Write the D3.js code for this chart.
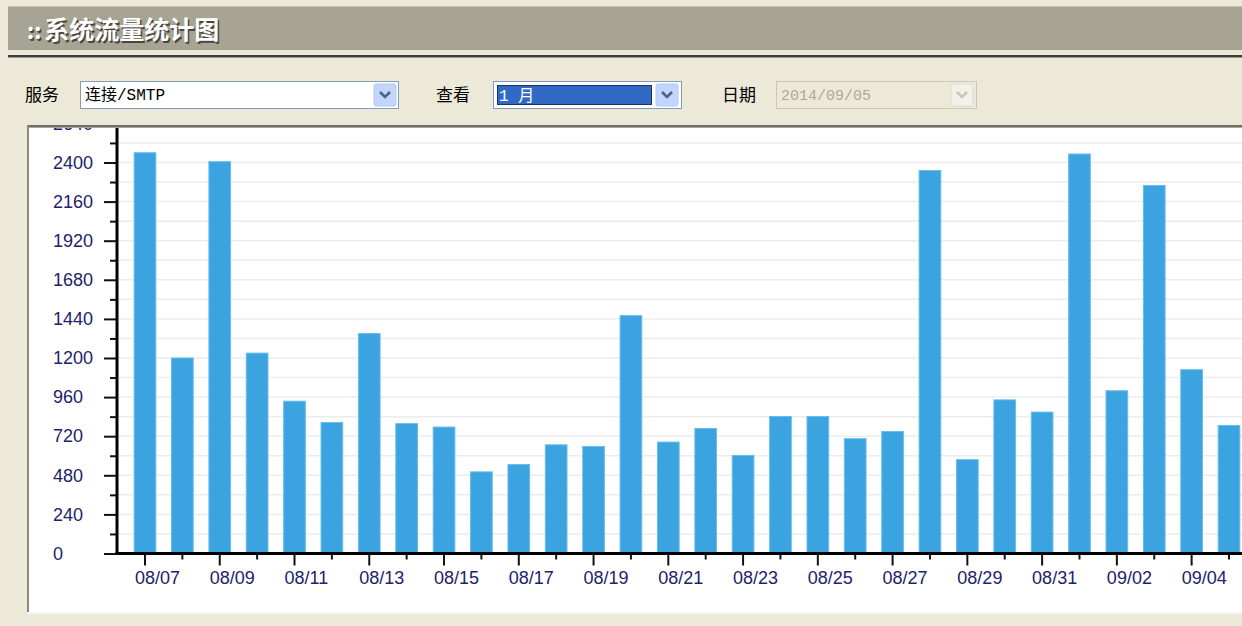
<!DOCTYPE html>
<html>
<head>
<meta charset="utf-8">
<script src="https://cdn.jsdelivr.net/npm/d3@7"></script>
<style>
  body { margin: 0; background: #ece9d8; overflow: hidden; }
  svg { display: block; }
</style>
</head>
<body>
<svg id="chart" width="1242" height="626"></svg>
<script>
// Daily SMTP connection counts, one bar per day
const dates = ["08/07","08/08","08/09","08/10","08/11","08/12","08/13","08/14","08/15","08/16",
               "08/17","08/18","08/19","08/20","08/21","08/22","08/23","08/24","08/25","08/26",
               "08/27","08/28","08/29","08/30","08/31","09/01","09/02","09/03","09/04","09/05"];
const traffic = [2460,1200,2405,1230,935,804,1350,797,776,501,
                 546,667,657,1460,684,767,602,841,841,705,
                 749,2351,576,943,868,2452,999,2259,1128,786];
const yMajorTicks = [0,240,480,720,960,1200,1440,1680,1920,2160,2400,2640];
const yMinorTicks = [120,360,600,840,1080,1320,1560,1800,2040,2280,2520];

const pageTitle = "::系统流量统计图";
const serviceLabel = "服务", serviceValue = "连接/SMTP";
const viewLabel = "查看", viewValue = "1 月";
const dateLabel = "日期", dateValue = "2014/09/05";

const W = 1242, H = 626;
const svg = d3.select("#chart");

// ---------- page header ----------
svg.append("rect").attr("x", 0).attr("y", 0).attr("width", W).attr("height", H).attr("fill", "#ece9d8");
svg.append("rect").attr("x", 8).attr("y", 6).attr("width", W - 8).attr("height", 44).attr("fill", "#a8a494");
svg.append("rect").attr("x", 8).attr("y", 6).attr("width", W - 8).attr("height", 1).attr("fill", "#c4c1b3");
const titleFont = "'Noto Sans CJK SC', sans-serif";
function titleText(dx, dy, fill) {
  const t = svg.append("text").attr("x", 27 + dx).attr("y", 39 + dy)
    .attr("font-family", titleFont).attr("font-size", 25).attr("font-weight", 700).attr("fill", fill);
  t.append("tspan").text(pageTitle.slice(0, 2)).attr("font-size", 22);
  t.append("tspan").attr("dx", 3).text(pageTitle.slice(2));
}
titleText(1.5, 1.5, "#47453d");
titleText(0, 0, "#ffffff");
svg.append("rect").attr("x", 8).attr("y", 55).attr("width", W - 8).attr("height", 2).attr("fill", "#3c3c3c");
svg.append("rect").attr("x", 8).attr("y", 57).attr("width", W - 8).attr("height", 1).attr("fill", "#9a9a90");

// ---------- form controls ----------
const labelFont = "'Noto Sans CJK SC', sans-serif";
const monoFont = "'Liberation Mono', 'Noto Sans CJK SC', monospace";

function comboButton(x, y, disabled) {
  const g = svg.append("g").attr("transform", `translate(${x},${y})`);
  g.append("rect").attr("width", 22).attr("height", 22).attr("rx", 2)
    .attr("fill", disabled ? "#f2f1ea" : "#c3d5fd").attr("stroke", disabled ? "#dedcd2" : "#b5c9f0");
  g.append("path").attr("d", "M6,8 L11,13 L16,8").attr("fill", "none")
    .attr("stroke", disabled ? "#c9c7ba" : "#4d6185").attr("stroke-width", 2.6);
}

// 服务
svg.append("text").attr("x", 25).attr("y", 101).text(serviceLabel)
  .attr("font-family", labelFont).attr("font-size", 17).attr("fill", "#000");
svg.append("rect").attr("x", 80.5).attr("y", 81.5).attr("width", 318).attr("height", 27)
  .attr("fill", "#fff").attr("stroke", "#7f9db9");
svg.append("text").attr("x", 85).attr("y", 100).text(serviceValue)
  .attr("font-family", monoFont).attr("font-size", 16).attr("fill", "#000");
comboButton(374, 84, false);

// 查看
svg.append("text").attr("x", 436).attr("y", 101).text(viewLabel)
  .attr("font-family", labelFont).attr("font-size", 17).attr("fill", "#000");
svg.append("rect").attr("x", 493.5).attr("y", 81.5).attr("width", 188).attr("height", 27)
  .attr("fill", "#fff").attr("stroke", "#7f9db9");
svg.append("rect").attr("x", 497).attr("y", 85).attr("width", 155).attr("height", 20).attr("fill", "#316ac5");
svg.append("rect").attr("x", 497.5).attr("y", 85.5).attr("width", 154).attr("height", 19)
  .attr("fill", "none").attr("stroke", "#000").attr("stroke-dasharray", "1,1");
svg.append("text").attr("x", 499).attr("y", 101).text(viewValue)
  .attr("font-family", monoFont).attr("font-size", 16).attr("fill", "#fff");
comboButton(656, 84, false);

// 日期
svg.append("text").attr("x", 722).attr("y", 101).text(dateLabel)
  .attr("font-family", labelFont).attr("font-size", 17).attr("fill", "#000");
svg.append("rect").attr("x", 776.5).attr("y", 81.5).attr("width", 200).attr("height", 27)
  .attr("fill", "#ece9d8").attr("stroke", "#cbc8b9");
svg.append("text").attr("x", 781).attr("y", 100).text(dateValue)
  .attr("font-family", monoFont).attr("font-size", 15).attr("fill", "#aca899");
comboButton(951, 84, true);

// ---------- chart panel ----------
const panel = { x: 27, y: 125, w: W - 27, h: 487 };
svg.append("rect").attr("x", panel.x).attr("y", panel.y).attr("width", panel.w).attr("height", panel.h)
  .attr("fill", "#ffffff");
svg.append("rect").attr("x", panel.x).attr("y", panel.y + panel.h).attr("width", panel.w).attr("height", 2)
  .attr("fill", "#f7f6f0");

svg.append("defs").append("clipPath").attr("id", "plotClip")
  .append("rect").attr("x", panel.x + 2).attr("y", panel.y + 3).attr("width", panel.w).attr("height", panel.h - 3);

const plot = svg.append("g").attr("clip-path", "url(#plotClip)");

const axisX0 = 117, baseY = 553.5;
const y = d3.scaleLinear().domain([0, 2640]).range([baseY, baseY - 2640 * 0.16292]);
const x = d3.scaleBand().domain(dates).range([126.3, 1247.7]).paddingInner(0.42).paddingOuter(0.21);

// horizontal grid
plot.append("g").selectAll("line").data(yMajorTicks.concat(yMinorTicks).filter(d => d > 0))
  .join("line")
  .attr("x1", axisX0).attr("x2", W)
  .attr("y1", d => y(d)).attr("y2", d => y(d))
  .attr("stroke", "#ececec").attr("stroke-width", 1.5);

// bars
plot.append("g").selectAll("rect").data(traffic)
  .join("rect")
  .attr("x", (d, i) => x(dates[i]))
  .attr("width", x.bandwidth())
  .attr("y", d => y(d))
  .attr("height", d => baseY - y(d))
  .attr("fill", "#3ba3e0")
  .attr("stroke", "#66bdec").attr("stroke-width", 1);

const axisFont = "'Liberation Sans', Arial, sans-serif";
const axisColor = "#22226a";

// y axis: minor then major ticks
const yMinor = plot.append("g").attr("transform", `translate(${axisX0},0)`)
  .call(d3.axisLeft(y).tickValues(yMinorTicks).tickSize(7).tickFormat(""));
const yMajor = plot.append("g").attr("transform", `translate(${axisX0},0)`)
  .call(d3.axisLeft(y).tickValues(yMajorTicks).tickSize(13).tickPadding(11).tickFormat(d3.format("d")));

// x axis: every day ticked, every other day labelled
const xMinor = plot.append("g").attr("transform", `translate(0,${baseY})`)
  .call(d3.axisBottom(x).tickValues(dates.filter((d, i) => i % 2 === 1)).tickSize(6).tickFormat(""));
const xMajor = plot.append("g").attr("transform", `translate(0,${baseY})`)
  .call(d3.axisBottom(x).tickValues(dates.filter((d, i) => i % 2 === 0)).tickSize(12).tickPadding(6));

[yMinor, yMajor, xMinor, xMajor].forEach(g => {
  g.select(".domain").remove();
  g.selectAll(".tick line").attr("stroke", "#111").attr("stroke-width", 2);
  g.selectAll(".tick text").attr("font-family", axisFont).attr("font-size", 18).attr("fill", axisColor);
});
// value labels share a left edge; date labels start just left of their tick
yMajor.selectAll(".tick text").attr("text-anchor", "start").attr("x", 53 - axisX0);
xMajor.selectAll(".tick text").attr("text-anchor", "start").attr("dx", -10);

// axis lines
plot.append("line").attr("x1", axisX0).attr("x2", axisX0).attr("y1", panel.y).attr("y2", baseY + 1.5)
  .attr("stroke", "#000").attr("stroke-width", 3);
plot.append("line").attr("x1", axisX0 - 1.5).attr("x2", W).attr("y1", baseY).attr("y2", baseY)
  .attr("stroke", "#000").attr("stroke-width", 3);

// sunken panel border
svg.append("rect").attr("x", panel.x).attr("y", panel.y).attr("width", panel.w).attr("height", 2).attr("fill", "#6f6f6a");
svg.append("rect").attr("x", panel.x).attr("y", panel.y + 2).attr("width", panel.w).attr("height", 1).attr("fill", "#a8a8a0");
svg.append("rect").attr("x", panel.x).attr("y", panel.y).attr("width", 2).attr("height", panel.h).attr("fill", "#8a8a84");
</script>
</body>
</html>
